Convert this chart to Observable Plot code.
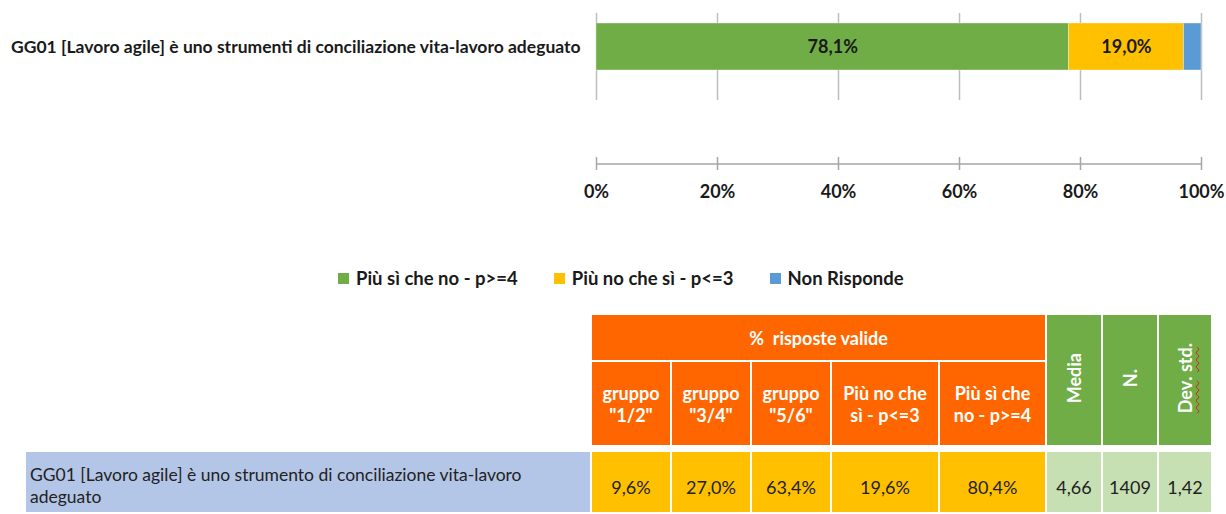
<!DOCTYPE html>
<html>
<head>
<meta charset="utf-8">
<script src="https://cdn.jsdelivr.net/npm/d3@7"></script>
<script src="https://cdn.jsdelivr.net/npm/@observablehq/plot@0.6"></script>
<style>
  html, body { margin: 0; padding: 0; background: #fff; }
  #wrap { position: relative; width: 1226px; height: 514px; overflow: hidden; font-family: Lato, "Noto Sans", sans-serif; color: #1a1a1a; }
  #chart svg, #axis svg { display: block; }
  #axis { position: absolute; left: 0; top: 102px; }
  #legend { position: absolute; top: 266px; left: 338px; display: flex; align-items: center; font-weight: bold; font-size: 18.5px; line-height: 24px; white-space: nowrap; }
  #legend .item { display: flex; align-items: center; margin-right: 36px; }
  #legend .sw { width: 11px; height: 11px; margin-right: 7px; }
  #tbl { position: absolute; left: 24px; top: 313px; border-collapse: separate; border-spacing: 2px; table-layout: fixed; font-family: Lato, "Noto Sans", sans-serif; }
  #tbl td, #tbl th { padding: 0; text-align: center; vertical-align: middle; }
  #tbl th { color: #fff; font-weight: bold; font-size: 18px; line-height: 22px; }
  #tbl .or { background: #FF6600; }
  #tbl .gr { background: #70AD47; }
  #tbl .vert span.v { writing-mode: vertical-rl; transform: rotate(180deg); display: inline-block; white-space: nowrap; }
  #tbl .q { background: #B4C6E7; text-align: left; font-size: 17.5px; line-height: 22px; padding-left: 4px; padding-top: 8px; color: #222; }
  #tbl .y { background: #FFC000; font-size: 18px; color: #222; padding-top: 10px; }
  #tbl .lg { background: #C6E0B4; font-size: 18px; color: #222; padding-top: 10px; }
  .spell { text-decoration: underline wavy #d02020; text-decoration-thickness: 1px; }
</style>
</head>
<body>
<div id="wrap">
  <div id="chart"></div>
  <div id="axis"></div>
  <div id="legend"></div>
  <table id="tbl"></table>
</div>
<script>
// ---- Data ----
const question = "GG01 [Lavoro agile] è uno strumenti di conciliazione vita-lavoro adeguato";
const categories = ["Più sì che no - p>=4", "Più no che sì - p<=3", "Non Risponde"];
const values = [78.1, 19.0, 2.9];
const colors = ["#70AD47", "#FFC000", "#5B9BD5"];
const xTicks = [0, 20, 40, 60, 80, 100];

const tableQuestion = "GG01 [Lavoro agile] è uno strumento di conciliazione vita-lavoro adeguato";
const tableGroupHeader = "%  risposte valide";
const tableColumns = [["gruppo", "\"1/2\""], ["gruppo", "\"3/4\""], ["gruppo", "\"5/6\""], ["Più no che", "sì - p<=3"], ["Più sì che", "no - p>=4"]];
const tablePct = [9.6, 27.0, 63.4, 19.6, 80.4];
const statColumns = ["Media", "N.", "Dev. std."];
const statValues = [4.66, 1409, 1.42];

// ---- Helpers ----
const it = d3.formatLocale({decimal: ",", thousands: "", grouping: [3], currency: ["", "€"]});
const pct = d => it.format(".1f")(d) + "%";
const esc = s => s.replace(/&/g, "&amp;").replace(/</g, "&lt;").replace(/>/g, "&gt;");

const rows = categories.map((c, i) => ({question, category: c, value: values[i]}));

// ---- Bar chart ----
const chart = Plot.plot({
  width: 1226,
  height: 102,
  marginLeft: 596,
  marginRight: 25,
  marginTop: 13,
  marginBottom: 2,
  style: {fontFamily: "Lato, 'Noto Sans', sans-serif", color: "#1a1a1a", overflow: "visible"},
  x: {domain: [0, 100], axis: null},
  y: {domain: [question], range: [13, 80], padding: 0.175, axis: null},
  color: {domain: categories, range: colors},
  marks: [
    Plot.ruleX(xTicks, {stroke: "#bdbdbd", strokeWidth: 1.5}),
    Plot.barX(rows, Plot.stackX({x: "value", y: "question", z: "category", fill: "category", order: categories, stroke: "#fff", strokeOpacity: 0.35, strokeWidth: 1})),
    Plot.text(rows, Plot.stackX({x: "value", y: "question", z: "category", order: categories, text: d => d.value > 5 ? pct(d.value) : "", fontWeight: "bold", fontSize: 18, fill: "#1a1a1a"})),
    Plot.axisY({tickSize: 0, tickPadding: 16, fontWeight: "bold", fontSize: 17.5, fill: "#1a1a1a", label: null})
  ]
});
document.getElementById("chart").append(chart);

// ---- Separate x axis ----
const axis = Plot.plot({
  width: 1226,
  height: 110,
  marginLeft: 596,
  marginRight: 25,
  marginTop: 55,
  marginBottom: 42,
  style: {fontFamily: "Lato, 'Noto Sans', sans-serif", color: "#1a1a1a", overflow: "visible"},
  x: {domain: [0, 100]},
  y: {domain: [-1, 1], axis: null},
  marks: [
    Plot.ruleY([0], {stroke: "#a6a6a6", strokeWidth: 1.5}),
    Plot.tickX(xTicks, {x: d => d, stroke: "#a6a6a6", strokeWidth: 1.5}),
    Plot.axisX(xTicks, {anchor: "bottom", tickSize: 0, tickPadding: 15, tickFormat: d => d + "%", fontWeight: "bold", fontSize: 18, fill: "#1a1a1a", label: null})
  ]
});
document.getElementById("axis").append(axis);

// ---- Legend ----
const legend = document.getElementById("legend");
categories.forEach((c, i) => {
  const item = document.createElement("div");
  item.className = "item";
  const sw = document.createElement("span");
  sw.className = "sw";
  sw.style.background = colors[i];
  const t = document.createElement("span");
  t.textContent = c;
  item.append(sw, t);
  legend.append(item);
});

// ---- Table ----
const colWidths = [564, 78, 78, 78, 106, 105, 54, 54, 52];
const tbl = document.getElementById("tbl");
const cg = document.createElement("colgroup");
colWidths.forEach(w => { const c = document.createElement("col"); c.style.width = w + "px"; cg.append(c); });
tbl.append(cg);

const r1 = tbl.insertRow();
r1.style.height = "45px";
const blank = document.createElement("td"); blank.rowSpan = 2; r1.append(blank);
const gh = document.createElement("th"); gh.colSpan = tableColumns.length; gh.className = "or"; gh.style.whiteSpace = "pre"; gh.textContent = tableGroupHeader; r1.append(gh);
statColumns.forEach(s => {
  const th = document.createElement("th");
  th.rowSpan = 2; th.className = "gr vert";
  const sp = document.createElement("span");
  sp.className = "v";
  if (s === "Dev. std.") {
    sp.innerHTML = '<span class="spell">Dev</span>. <span class="spell">std</span>.';
  } else sp.textContent = s;
  th.append(sp);
  r1.append(th);
});
const r2 = tbl.insertRow();
r2.style.height = "83px";
tableColumns.forEach(lines => {
  const th = document.createElement("th");
  th.className = "or";
  th.innerHTML = lines.map(esc).join("<br>");
  r2.append(th);
});
const sp = tbl.insertRow();
sp.style.height = "3px";
const spc = document.createElement("td"); spc.colSpan = 9; spc.style.height = "3px"; sp.append(spc);

const r3 = tbl.insertRow();
r3.style.height = "60px";
const q = document.createElement("td"); q.className = "q"; q.textContent = tableQuestion; r3.append(q);
tablePct.forEach(v => { const td = document.createElement("td"); td.className = "y"; td.textContent = pct(v); r3.append(td); });
const statFmt = [it.format(".2f"), it.format("d"), it.format(".2f")];
statValues.forEach((v, i) => { const td = document.createElement("td"); td.className = "lg"; td.textContent = statFmt[i](v); r3.append(td); });
</script>
</body>
</html>
